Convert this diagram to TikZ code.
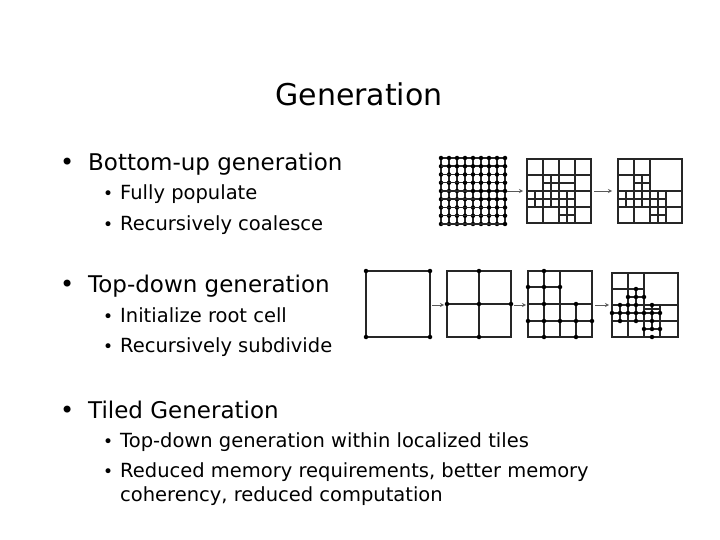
\documentclass[tikz,border=0pt]{standalone}
\usepackage{fontspec}
\setmainfont{DejaVu Sans}
\newcommand{\bigbul}{\makebox[28pt][l]{\fontsize{24}{24}\selectfont•}}
\newcommand{\smbul}{\makebox[17pt][l]{\fontsize{17}{17}\selectfont•}}
\begin{document}
\begin{tikzpicture}[x=1pt,y=-1pt,
  sk/.style={line width=1.5pt,black!85},
  arr/.style={line width=0.8pt,black!65,-stealth},
  dot/.style={circle,fill=black,inner sep=0pt,minimum size=4.5pt},
  title/.style={font=\fontsize{30}{34}\selectfont,anchor=base},
  lvl1/.style={font=\fontsize{23}{26}\selectfont,anchor=base west,inner sep=0pt},
  lvl2/.style={font=\fontsize{19.5}{22}\selectfont,anchor=base west,inner sep=0pt}]
\useasboundingbox (0,0) rectangle (720,540);
\node[title] (t) at (359,106) {Generation};
\node[lvl1] (b1) at (60,171) {\bigbul Bottom-up generation};
\node[lvl2] (b1a) at (103,200) {\smbul Fully populate};
\node[lvl2] (b1b) at (103,230) {\smbul Recursively coalesce};
\node[lvl1] (b2) at (60,292) {\bigbul Top-down generation};
\node[lvl2] (b2a) at (103,322) {\smbul Initialize root cell};
\node[lvl2] (b2b) at (103,352) {\smbul Recursively subdivide};
\node[lvl1] (b3) at (60,418) {\bigbul Tiled Generation};
\node[lvl2] (b3a) at (103,447) {\smbul Top-down generation within localized tiles};
\node[lvl2] (b3b) at (103,477) {\smbul Reduced memory requirements, better memory};
\node[lvl2] (b3c) at (120,501) {coherency, reduced computation};
% top row grid 1 (8x8 dotted)
\begin{scope}[shift={(441,158)}]
\foreach \i in {0,...,8}{
  \draw[sk] (\i*8,0) -- (\i*8,66);
  \draw[sk] (0,\i*8.25) -- (64,\i*8.25);
  \foreach \j in {0,...,8}{\node[dot] at (\i*8,\j*8.25) {};}}
\end{scope}
\coordinate (a1s) at (507,191); \coordinate (a1e) at (523,191);
\draw[arr] (a1s) -- (a1e);
% grid 2
\begin{scope}[shift={(527,159)}]
\draw[sk] (0,0) rectangle (64,64);
\foreach \v in {16,32,48}{\draw[sk] (\v,0) -- (\v,64); \draw[sk] (0,\v) -- (64,\v);}
\draw[sk] (24,16) -- (24,48); \draw[sk] (16,24) -- (48,24);
\draw[sk] (8,32) -- (8,48); \draw[sk] (0,40) -- (48,40); \draw[sk] (40,32) -- (40,48);
\draw[sk] (32,56) -- (48,56); \draw[sk] (40,48) -- (40,64);
\end{scope}
\coordinate (a2s) at (594,191); \coordinate (a2e) at (612,191);
\draw[arr] (a2s) -- (a2e);
% grid 3
\begin{scope}[shift={(618,159)}]
\draw[sk] (0,0) rectangle (64,64);
\draw[sk] (16,0) -- (16,64); \draw[sk] (32,0) -- (32,64);
\draw[sk] (0,16) -- (32,16); \draw[sk] (32,32) -- (64,32);
\draw[sk] (0,48) -- (64,48); \draw[sk] (48,32) -- (48,64);
\draw[sk] (16,24) -- (32,24); \draw[sk] (24,16) -- (24,48);
\draw[sk] (0,40) -- (48,40); \draw[sk] (8,32) -- (8,48); \draw[sk] (0,32) -- (32,32);
\draw[sk] (40,32) -- (40,48); \draw[sk] (40,48) -- (40,64); \draw[sk] (32,56) -- (48,56);
\end{scope}
% bottom row sq1
\begin{scope}[shift={(366,271)}]
\draw[sk] (0,0) rectangle (64,66);
\foreach \p in {(0,0),(64,0),(0,66),(64,66)} \node[dot] at \p {};
\end{scope}
\coordinate (b1s) at (432,305); \coordinate (b1e) at (444,305);
\draw[arr] (b1s) -- (b1e);
% sq2
\begin{scope}[shift={(447,271)}]
\draw[sk] (0,0) rectangle (64,66); \draw[sk] (32,0) -- (32,66); \draw[sk] (0,33) -- (64,33);
\foreach \p in {(32,0),(0,33),(32,33),(64,33),(32,66)} \node[dot] at \p {};
\end{scope}
\coordinate (b2s) at (514,305); \coordinate (b2e) at (526,305);
\draw[arr] (b2s) -- (b2e);
% sq3
\begin{scope}[shift={(528,271)}]
\draw[sk] (0,0) rectangle (64,66); \draw[sk] (32,0) -- (32,66); \draw[sk] (0,33) -- (64,33);
\draw[sk] (16,0) -- (16,66); \draw[sk] (0,16) -- (32,16);
\draw[sk] (0,50) -- (64,50); \draw[sk] (48,33) -- (48,66);
\foreach \p in {(16,0),(0,16),(16,16),(32,16),(16,33),(48,33),(0,50),(16,50),(32,50),(48,50),(64,50),(16,66),(48,66)} \node[dot] at \p {};
\end{scope}
\coordinate (b3s) at (595,305); \coordinate (b3e) at (609,305);
\draw[arr] (b3s) -- (b3e);
% sq4
\begin{scope}[shift={(612,273)}]
\draw[sk] (0,0) rectangle (66,64);
\draw[sk] (16,0) -- (16,64); \draw[sk] (32,0) -- (32,64); \draw[sk] (0,16) -- (32,16);
\draw[sk] (0,32) -- (66,32); \draw[sk] (0,48) -- (66,48); \draw[sk] (48,32) -- (48,64);
\draw[sk] (24,16) -- (24,32); \draw[sk] (16,24) -- (32,24);
\draw[sk] (8,32) -- (8,48); \draw[sk] (0,40) -- (48,40); \draw[sk] (24,32) -- (24,48);
\draw[sk] (40,32) -- (40,56); \draw[sk] (32,56) -- (48,56); \draw[sk] (32,36) -- (48,36);
\foreach \p in {(24,16),(16,24),(24,24),(32,24),(16,32),(8,32),(0,40),(8,40),(16,40),(24,40),(32,40),(40,40),(48,40),(24,32),(40,32),(24,48),(8,48),(40,48),(40,56),(32,56),(48,56),(40,64)} \node[dot] at \p {};
\end{scope}
\end{tikzpicture}
\end{document}
